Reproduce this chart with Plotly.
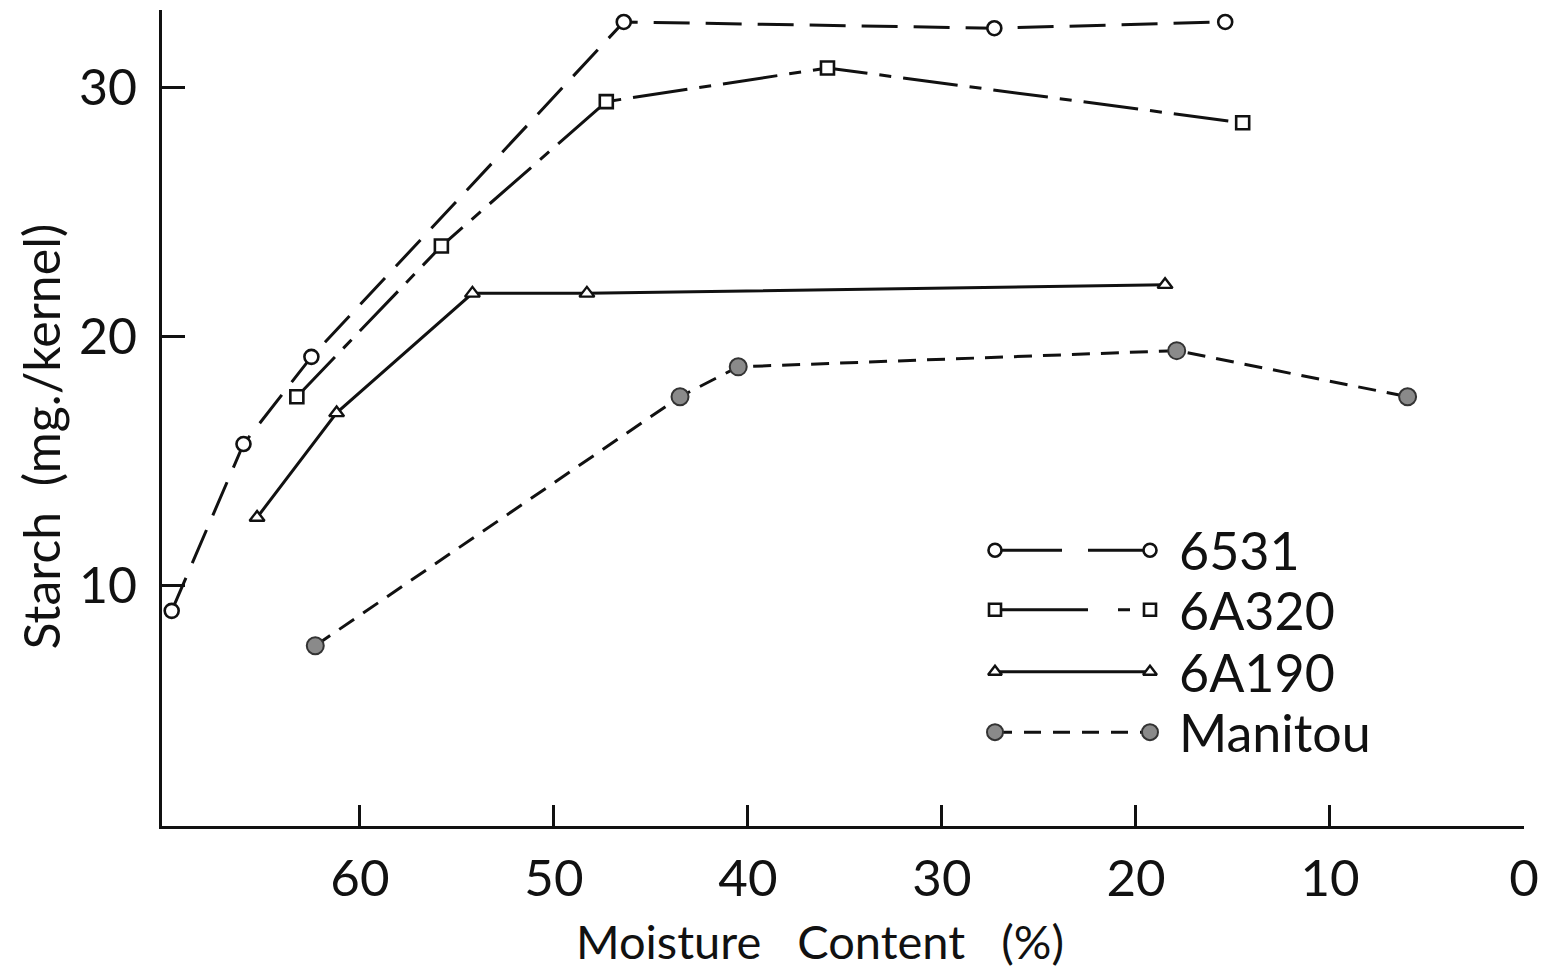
import plotly.graph_objects as go

# ---- data ----
names = ["6531", "6A320", "6A190", "Manitou"]

x_6531 = [69.7, 66.0, 62.5, 46.4, 27.3, 15.4]
y_6531 = [9.0, 15.7, 19.2, 32.65, 32.4, 32.65]

x_6A320 = [63.25, 55.8, 47.3, 35.9, 14.5]
y_6A320 = [17.6, 23.65, 29.45, 30.8, 28.6]

x_6A190 = [65.3, 61.2, 54.2, 48.3, 18.5]
y_6A190 = [12.75, 16.95, 21.75, 21.75, 22.1]

x_manitou = [62.3, 43.5, 40.5, 17.9, 6.0]
y_manitou = [7.6, 17.6, 18.8, 19.45, 17.6]

x_ticks = [60, 50, 40, 30, 20, 10, 0]
y_ticks = [10, 20, 30]

x_title = "Moisture   Content   (%)"
y_title = "Starch  (mg./kernel)"

FONT = "Lato"
BLACK = "#111111"

series = [
    (names[0], x_6531, y_6531, "36px,16px",
     dict(symbol="circle", size=14, color="white", line=dict(width=2.6, color=BLACK))),
    (names[1], x_6A320, y_6A320, "55px,12px,12px,12px",
     dict(symbol="square", size=13, color="white", line=dict(width=2.6, color=BLACK))),
    (names[2], x_6A190, y_6A190, "solid",
     dict(symbol="triangle-up", size=13, color="white", line=dict(width=2.4, color=BLACK))),
    (names[3], x_manitou, y_manitou, "18px,11px",
     dict(symbol="circle", size=17, color="#8a8a8a", line=dict(width=2, color="#333333"))),
]

fig = go.Figure()
for name, xs, ys, dash, mk in series:
    fig.add_trace(go.Scatter(
        x=xs, y=ys, mode="lines+markers", name=name,
        line=dict(color=BLACK, width=3, dash=dash),
        marker=mk, showlegend=False,
    ))

# ---- custom legend: marker at both ends of a line sample (on an overlay axis) ----
leg_x0, leg_x1, leg_tx = 0.6116, 0.7254, 0.745
leg_ys = [0.338, 0.265, 0.189, 0.115]
legend_dash = ["67px,26px,70px,10px", "93px,30px,12px,30px", "solid", "17px,12px"]
for (name, xs, ys, dash, mk), ly, ld in zip(series, leg_ys, legend_dash):
    mk2 = dict(mk)
    mk2["size"] = mk["size"] - 1
    fig.add_trace(go.Scatter(
        x=[leg_x0, leg_x1], y=[ly, ly], mode="lines+markers",
        line=dict(color=BLACK, width=3, dash=ld), marker=mk2,
        xaxis="x2", yaxis="y2", showlegend=False, hoverinfo="skip",
    ))
    fig.add_annotation(x=leg_tx, y=ly, xref="x2", yref="y2", text=name,
                       showarrow=False, xanchor="left", yanchor="middle",
                       font=dict(family=FONT, size=52, color=BLACK))

# axis titles
fig.add_annotation(x=0.483, y=-0.141, xref="paper", yref="paper", text=x_title,
                   showarrow=False, xanchor="center", yanchor="middle",
                   font=dict(family=FONT, size=47, color=BLACK))
fig.add_annotation(x=-0.089, y=0.477, xref="paper", yref="paper", text=y_title,
                   showarrow=False, xanchor="center", yanchor="middle", textangle=-90,
                   font=dict(family=FONT, size=50, color=BLACK))

fig.update_layout(
    width=1547, height=968,
    margin=dict(l=154, r=31, t=2, b=150, autoexpand=False),
    paper_bgcolor="white", plot_bgcolor="white",
    font=dict(family=FONT, color=BLACK),
    xaxis=dict(
        range=[70.2, 0], tickvals=x_ticks, ticktext=[str(v) for v in x_ticks],
        ticks="inside", ticklen=21, tickwidth=3, tickcolor=BLACK,
        showline=True, linewidth=3, linecolor=BLACK, showgrid=False, zeroline=False,
        tickfont=dict(family=FONT, size=51, color=BLACK), ticklabelstandoff=6,
        automargin=False,
    ),
    yaxis=dict(
        range=[0.36, 33.13], tickvals=y_ticks, ticktext=[str(v) for v in y_ticks],
        ticks="inside", ticklen=23, tickwidth=3, tickcolor=BLACK,
        showline=True, linewidth=3, linecolor=BLACK, showgrid=False, zeroline=False,
        tickfont=dict(family=FONT, size=50, color=BLACK), ticklabelstandoff=12,
        automargin=False,
    ),
    xaxis2=dict(range=[0, 1], overlaying="x", visible=False, fixedrange=True),
    yaxis2=dict(range=[0, 1], overlaying="y", visible=False, fixedrange=True),
)

fig.write_html("out.html")
